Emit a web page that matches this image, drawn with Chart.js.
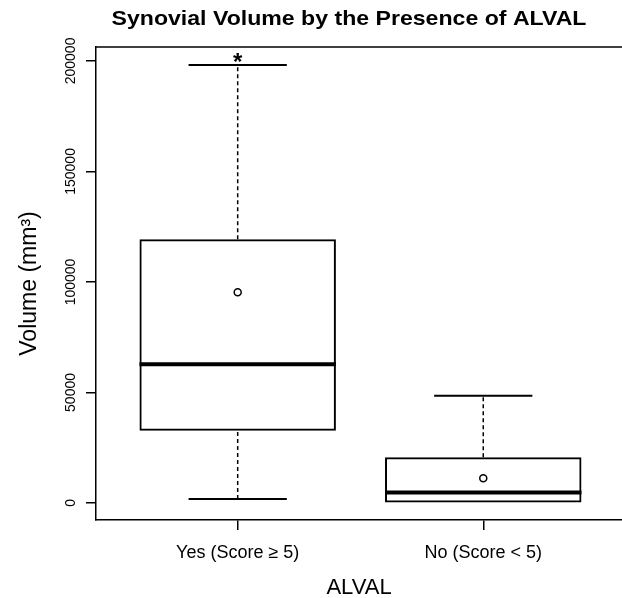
<!DOCTYPE html>
<html>
<head>
<meta charset="utf-8">
<script src="https://cdn.jsdelivr.net/npm/chart.js@4/dist/chart.umd.min.js"></script>
<style>
  body { margin: 0; background: #fff; }
</style>
</head>
<body>
<canvas id="chart" width="622" height="598"></canvas>
<script>
// box plot summaries
const groups = ['Yes (Score \u2265 5)', 'No (Score < 5)'];
const whiskerLow = [1800, 200];
const q1 = [32700, 200];
const median = [62800, 4700];
const q3 = [119300, 20700];
const whiskerHigh = [198200, 48500];
const means = [95300, 11200];
const yTicks = [0, 50000, 100000, 150000, 200000];

const FONT = "'Liberation Sans', Arial, Helvetica, sans-serif";
const boxHalf = 0.4;
const stapleHalf = 0.2;

function segment(x0, x1, y0, y1, width, dash) {
  return {
    type: 'line',
    data: [{ x: x0, y: y0 }, { x: x1, y: y1 }],
    borderColor: '#000',
    borderWidth: width,
    borderDash: dash || [],
    pointRadius: 0,
    order: 1
  };
}

const lineSets = [];
groups.forEach((g, i) => {
  const x = i + 1;
  lineSets.push(segment(x, x, q3[i], whiskerHigh[i], 1.5, [4, 3]));
  lineSets.push(segment(x - stapleHalf, x + stapleHalf, whiskerHigh[i], whiskerHigh[i], 2));
  if (whiskerLow[i] < q1[i]) {
    lineSets.push(segment(x, x, whiskerLow[i], q1[i], 1.5, [4, 3]));
    lineSets.push(segment(x - stapleHalf, x + stapleHalf, whiskerLow[i], whiskerLow[i], 2));
  }
  lineSets.push(segment(x - boxHalf, x + boxHalf, median[i], median[i], 4));
});

// title, top frame line and the significance star
const extras = {
  id: 'extras',
  afterDraw(chart) {
    const { ctx, chartArea, scales } = chart;
    ctx.save();
    ctx.strokeStyle = '#000';
    ctx.lineWidth = 1.5;
    ctx.beginPath();
    ctx.moveTo(chartArea.left, chartArea.top);
    ctx.lineTo(chartArea.right, chartArea.top);
    ctx.stroke();

    ctx.fillStyle = '#000';
    ctx.textAlign = 'center';
    ctx.textBaseline = 'alphabetic';
    ctx.font = 'bold 24px ' + FONT;
    ctx.fillText('*', scales.x.getPixelForValue(1), scales.y.getPixelForValue(whiskerHigh[0]) + 5);

    // the original title is set a little wide
    ctx.translate(349, 25);
    ctx.scale(1.1, 1);
    ctx.font = 'bold 21px ' + FONT;
    ctx.fillText('Synovial Volume by the Presence of ALVAL', 0, 0);
    ctx.restore();
  }
};

new Chart(document.getElementById('chart'), {
  type: 'bar',
  data: {
    datasets: [
      {
        type: 'scatter',
        data: means.map((m, i) => ({ x: i + 1, y: m })),
        pointStyle: 'circle',
        pointRadius: 3.5,
        borderWidth: 1.5,
        borderColor: '#000',
        backgroundColor: '#fff',
        order: 0
      },
      ...lineSets,
      {
        type: 'bar',
        data: groups.map((g, i) => ({ x: i + 1, y: [q1[i], q3[i]] })),
        backgroundColor: 'rgba(255,255,255,0)',
        borderColor: '#000',
        borderWidth: 2,
        borderSkipped: false,
        barPercentage: 0.8,
        categoryPercentage: 1,
        order: 2
      }
    ]
  },
  options: {
    responsive: false,
    animation: false,
    layout: { autoPadding: false, padding: { top: 47, left: 0, right: 0, bottom: 0 } },
    plugins: { legend: { display: false }, tooltip: { enabled: false } },
    scales: {
      x: {
        type: 'linear',
        offset: false,
        min: 0.423,
        max: 2.565,
        afterBuildTicks: (s) => { s.ticks = groups.map((g, i) => ({ value: i + 1 })); },
        afterFit: (s) => { s.height = 78; s.paddingLeft = 0; s.paddingRight = 0; },
        grid: { display: true, offset: false, drawOnChartArea: false, drawTicks: true, tickLength: 10, color: '#000', lineWidth: 1.5 },
        border: { display: true, color: '#000', width: 1.5 },
        ticks: {
          color: '#000',
          font: { family: FONT, size: 18 },
          padding: 12,
          maxRotation: 0,
          callback: (v) => groups[v - 1]
        },
        title: { display: true, text: 'ALVAL', color: '#000', font: { family: FONT, size: 22 }, padding: { top: 0, bottom: -3 } }
      },
      y: {
        type: 'linear',
        min: -7700,
        max: 206300,
        afterBuildTicks: (s) => { s.ticks = yTicks.map(v => ({ value: v })); },
        afterFit: (s) => { s.width = 96; },
        grid: { display: true, drawOnChartArea: false, drawTicks: true, tickLength: 10, color: '#000', lineWidth: 1.5 },
        border: { display: true, color: '#000', width: 1.5 },
        ticks: {
          color: '#000',
          font: { family: FONT, size: 14 },
          padding: -8,
          minRotation: 90,
          maxRotation: 90,
          crossAlign: 'center',
          callback: (v) => String(v)
        },
        title: { display: true, text: 'Volume (mm\u00b3)', color: '#000', font: { family: FONT, size: 23 }, padding: { top: 16, bottom: 0 } }
      }
    }
  },
  plugins: [extras]
});
</script>
</body>
</html>
